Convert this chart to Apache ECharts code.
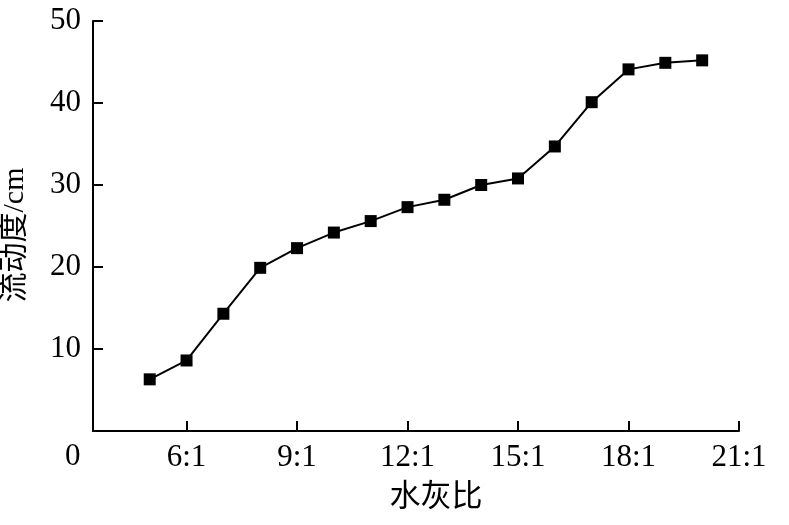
<!DOCTYPE html>
<html>
<head>
<meta charset="utf-8">
<script src="https://cdn.jsdelivr.net/npm/echarts@6/dist/echarts.min.js"></script>
<style>
  html, body { margin: 0; padding: 0; background: #fff; }
  #chart { width: 789px; height: 525px; }
</style>
</head>
<body>
<div id="chart"></div>
<script>
// 水灰比 (x:1) and 流动度 (cm)
var ratios = [5, 6, 7, 8, 9, 10, 11, 12, 13, 14, 15, 16, 17, 18, 19, 20];
var flow = [6.3, 8.6, 14.3, 19.9, 22.3, 24.2, 25.6, 27.3, 28.2, 30.0, 30.8, 34.7, 40.1, 44.1, 44.9, 45.2];
var xTicks = [6, 9, 12, 15, 18, 21];
var yTicks = [10, 20, 30, 40, 50];

var serif = '"Liberation Serif", "Noto Sans CJK SC", serif';

var chartDom = document.getElementById('chart');
var myChart = echarts.init(chartDom);
var option = {
  animation: false,
  backgroundColor: '#fff',
  grid: {
    left: 93,
    right: 50,
    top: 21,
    bottom: 94,
    outerBoundsMode: 'none'
  },
  xAxis: {
    type: 'value',
    min: 3.46,
    max: 21,
    name: '水灰比',
    nameLocation: 'middle',
    nameGap: 51,
    nameTextStyle: {
      color: '#000',
      fontSize: 31,
      fontFamily: serif,
      padding: [0, 0, 0, 40]
    },
    splitLine: { show: false },
    axisLine: { lineStyle: { color: '#000', width: 2 } },
    axisTick: {
      inside: true,
      length: 10,
      customValues: xTicks,
      lineStyle: { color: '#000', width: 2 }
    },
    axisLabel: {
      customValues: xTicks,
      margin: 11,
      color: '#000',
      fontSize: 31,
      fontFamily: serif,
      formatter: function (v) { return v + ':1'; }
    }
  },
  yAxis: {
    type: 'value',
    min: 0,
    max: 50,
    name: '流动度/cm',
    nameLocation: 'middle',
    nameGap: 63,
    nameTextStyle: {
      color: '#000',
      fontSize: 30,
      fontFamily: serif,
      padding: [0, 18, 0, 0]
    },
    splitLine: { show: false },
    axisLine: { show: true, lineStyle: { color: '#000', width: 2 } },
    axisTick: {
      show: true,
      inside: true,
      length: 10,
      customValues: yTicks,
      lineStyle: { color: '#000', width: 2 }
    },
    axisLabel: {
      customValues: yTicks,
      margin: 12,
      color: '#000',
      fontSize: 31,
      fontFamily: serif
    }
  },
  graphic: [
    {
      type: 'text',
      left: 65,
      top: 441,
      style: {
        text: '0',
        fill: '#000',
        font: '31px ' + serif
      }
    }
  ],
  series: [
    {
      type: 'line',
      data: ratios.map(function (r, i) { return [r, flow[i]]; }),
      symbol: 'rect',
      symbolSize: 12,
      lineStyle: { color: '#000', width: 2 },
      itemStyle: { color: '#000' }
    }
  ]
};
option && myChart.setOption(option);
</script>
</body>
</html>
